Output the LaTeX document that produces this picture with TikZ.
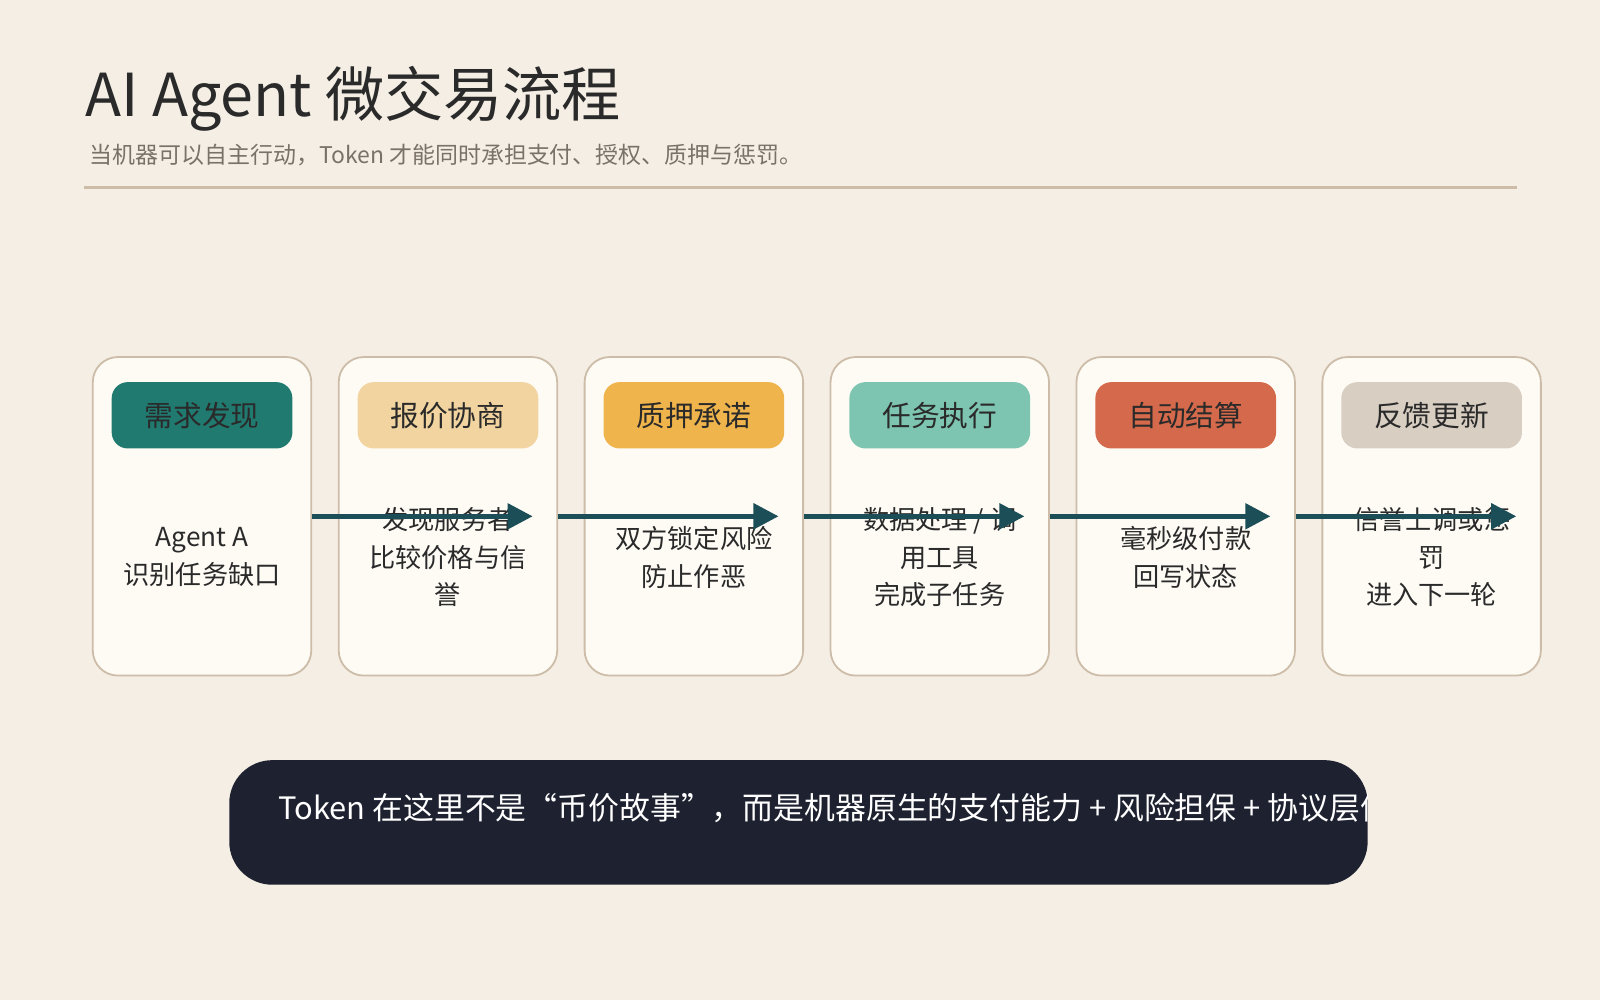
\documentclass[tikz,border=0pt]{standalone}
\usepackage{fontspec}
\setmainfont{Noto Sans CJK SC}
\usetikzlibrary{arrows.meta, positioning}
\definecolor{bgc}{HTML}{F4EEE4}
\definecolor{cardc}{HTML}{FEFBF5}
\definecolor{edgec}{HTML}{CDBDA8}
\definecolor{flowc}{HTML}{1B4E56}
\definecolor{inkc}{HTML}{2A2A2A}
\definecolor{greyc}{HTML}{7A7268}
\definecolor{darkc}{HTML}{1E2130}
\definecolor{pa}{HTML}{217A70}
\definecolor{pb}{HTML}{F2D4A0}
\definecolor{pc}{HTML}{F0B44C}
\definecolor{pd}{HTML}{7DC5B0}
\definecolor{pe}{HTML}{D46A4B}
\definecolor{pf}{HTML}{D8CEC2}
\tikzset{
  card/.style={draw=edgec, line width=0.5pt, fill=cardc, rounded corners=7pt,
    minimum width=2.14cm, minimum height=3.12cm},
  pill/.style={rounded corners=4.5pt, minimum width=1.77cm, minimum height=0.65cm,
    font=\fontsize{8}{10}\selectfont, text=inkc},
  cardtext/.style={align=center, font=\fontsize{7.3}{10.5}\selectfont, text=inkc},
  flow/.style={draw=flowc, line width=1.4pt, -{Triangle[length=7pt, width=7pt]}}
}
\begin{document}
\begin{tikzpicture}[x=0.01cm, y=-0.01cm]
\fill[bgc] (0,0) rectangle (1568,980);
\useasboundingbox (0,0) rectangle (1568,980);
% header
\node (title) [anchor=west, inner sep=0, font=\fontsize{16.5}{18}\selectfont, text=inkc]
  at (83,97) {AI Agent 微交易流程};
\node (sub) [anchor=west, inner sep=0, font=\fontsize{6.4}{8}\selectfont, text=greyc]
  at (87,152) {当机器可以自主行动，Token 才能同时承担支付、授权、质押与惩罚。};
\draw[edgec, line width=0.9pt] (82,184) -- (1487,184);
% cards
\foreach \i/\col/\name/\txt in {
  1/pa/需求发现/{Agent A\\识别任务缺口},
  2/pb/报价协商/{发现服务者\\比较价格与信\\誉},
  3/pc/质押承诺/{双方锁定风险\\防止作恶},
  4/pd/任务执行/{数据处理 / 调\\用工具\\完成子任务},
  5/pe/自动结算/{毫秒级付款\\回写状态},
  6/pf/反馈更新/{信誉上调或惩\\罚\\进入下一轮}}{
  \node (card\i) [card] at ({198+241*(\i-1)},506) {};
  \node (pill\i) [pill, fill=\col] at ({198+241*(\i-1)},407) {\name};
  \node (txt\i) [cardtext] at ({198+241*(\i-1)},546) {\txt};
}
% flow arrows
\foreach \i in {1,...,5}{
  \coordinate (tip\i) at ({305+241*(\i-1)+217},506);
  \draw[flow] (card\i.east) -- (tip\i);
}
% bottom note
\node (note) [fill=darkc, rounded corners=12pt, minimum width=11.15cm, minimum height=1.22cm]
  at (782.5,806) {};
\begin{scope}
\clip (225,745) rectangle (1340,867);
\node [anchor=west, inner sep=0, font=\fontsize{8.6}{10}\selectfont, text=white]
  at (272,792) {Token 在这里不是“币价故事”，而是机器原生的支付能力 + 风险担保 + 协议层信任};
\end{scope}
\end{tikzpicture}
\end{document}
